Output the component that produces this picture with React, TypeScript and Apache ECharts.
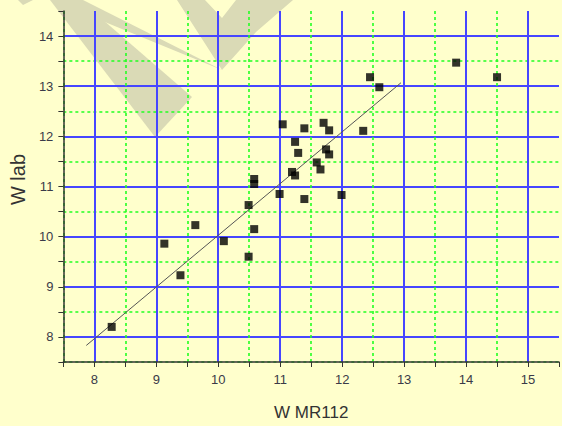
import React, { useEffect, useRef } from "react";
import * as echarts from "echarts";

const pointsX = [8.28, 9.13, 9.39, 9.63, 10.09, 10.49, 10.49, 10.58, 10.58, 10.58, 10.99, 11.04, 11.24, 11.29, 11.19, 11.24, 11.39, 11.39, 11.59, 11.65, 11.70, 11.74, 11.79, 11.79, 11.99, 12.34, 12.45, 12.60, 13.84, 14.50];
const pointsY = [8.20, 9.86, 9.23, 10.23, 9.91, 9.60, 10.63, 10.15, 11.15, 11.05, 10.85, 12.24, 11.89, 11.67, 11.29, 11.22, 10.75, 12.16, 11.48, 11.34, 12.27, 11.74, 11.64, 12.12, 10.83, 12.11, 13.18, 12.98, 13.47, 13.18];
const fitX = [7.87, 12.95];
const fitY = [7.83, 13.07];

const xName = "W MR112";
const yName = "W lab";

const BG = "#FFFFCC";
const BLUE = "#4646FF";
const GREEN = "#22FF22";
const AXIS = "#333333";
const CLEAR = "rgba(0,0,0,0)";

const watermark = [
  "18,0 33,0 23,5",
  "50,0 80,0 192,97 155,137",
  "60,0 83,0 222,70 100,20",
  "177,0 205,0 222,18 236,0 293,0 256,32 222,70",
];

function intLabel(v: number) {
  return Number.isInteger(v) ? String(v) : "";
}

function makeAxis(min: number, max: number, main: boolean, horizontal: boolean) {
  const base: any = {
    type: "value",
    min,
    max,
    interval: 0.5,
    splitLine: {
      show: true,
      interval: 0,
      showMinLine: true,
      showMaxLine: false,
      lineStyle: main
        ? { color: [GREEN, CLEAR], type: [3, 3], width: 1.6 }
        : { color: [CLEAR, BLUE], type: "solid", width: 2 },
    },
  };
  if (main) {
    return {
      ...base,
      axisLine: { show: true, onZero: false, lineStyle: { color: AXIS, width: 1.5 } },
      axisTick: { show: true, inside: false, length: 5, interval: 0, lineStyle: { color: AXIS, width: 1 } },
      axisLabel: {
        show: true,
        interval: 0,
        margin: horizontal ? 11 : 10,
        formatter: intLabel,
        color: "#3a3a48",
        fontSize: 13,
        fontFamily: "Liberation Sans, Arial, sans-serif",
      },
    };
  }
  return {
    ...base,
    axisLine: { show: false },
    axisTick: { show: false },
    axisLabel: { show: false },
  };
}

export default function App() {
  const ref = useRef<HTMLDivElement>(null);
  useEffect(() => {
    document.body.style.margin = "0";
    if (!ref.current) return;
    const chart = echarts.init(ref.current, null, { renderer: "svg" });
    const x0 = makeAxis(7.5, 15.5, true, true);
    const x1 = makeAxis(7.5, 15.5, false, true);
    const y0 = makeAxis(7.5, 14.5, true, false);
    const y1 = makeAxis(7.5, 14.5, false, false);
    chart.setOption({
      animation: false,
      backgroundColor: "transparent",
      grid: { left: 61, top: 11, width: 501, height: 367, containLabel: false },
      xAxis: [
        {
          ...x0,
          position: "bottom",
          name: xName,
          nameLocation: "middle",
          nameGap: 42,
          nameTextStyle: { color: "#333", fontSize: 17, fontFamily: "Liberation Sans, Arial, sans-serif" },
        },
        { ...x1, position: "top" },
      ],
      yAxis: [
        {
          ...y0,
          position: "left",
          name: yName,
          nameLocation: "middle",
          nameGap: 33,
          nameRotate: 90,
          nameTextStyle: {
            color: "#333",
            fontSize: 20,
            fontFamily: "Liberation Sans, Arial, sans-serif",
            padding: [0, 0, 0, 14],
          },
        },
        { ...y1, position: "right" },
      ],
      series: [
        {
          type: "line",
          xAxisIndex: 0,
          yAxisIndex: 0,
          data: fitX.map((x, i) => [x, fitY[i]]),
          symbol: "none",
          lineStyle: { color: "#555555", width: 1 },
          z: 3,
        },
        {
          type: "scatter",
          xAxisIndex: 0,
          yAxisIndex: 0,
          data: pointsX.map((x, i) => [x, pointsY[i]]),
          symbol: "rect",
          symbolSize: 8,
          itemStyle: { color: "#000000" },
          z: 4,
        },
      ],
    });
    return () => chart.dispose();
  }, []);
  return (
    <div style={{ position: "relative", width: 562, height: 426, background: BG, overflow: "hidden" }}>
      <svg width={562} height={426} style={{ position: "absolute", left: 0, top: 0 }}>
        {watermark.map((p, i) => (
          <polygon key={i} points={p} fill="#DADAB6" />
        ))}
      </svg>
      <div ref={ref} style={{ position: "absolute", left: 0, top: 0, width: 562, height: 426 }} />
    </div>
  );
}
